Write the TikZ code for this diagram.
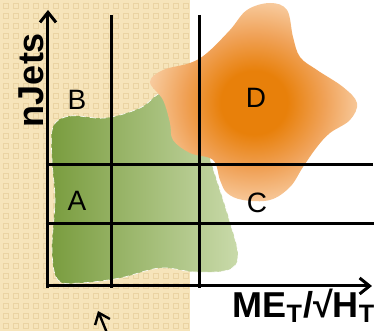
\documentclass[tikz,border=0pt]{standalone}
\usepackage{fontspec}
\setmainfont{Liberation Sans}
\usetikzlibrary{arrows.meta}
\definecolor{sandbg}{HTML}{F6E4BA}
\definecolor{sanddot}{HTML}{EAD3A2}
\definecolor{leafdark}{HTML}{799C3E}
\definecolor{leafmid}{HTML}{82A349}
\definecolor{leaflight}{HTML}{C9DAAA}
\definecolor{orangecore}{HTML}{E8800A}
\definecolor{orangemid}{HTML}{F0A258}
\definecolor{orangerim}{HTML}{F8CDA2}
\pgfdeclareradialshading{orangeglow}{\pgfpoint{0bp}{0bp}}{color(0bp)=(orangecore); color(8bp)=(orangecore); color(17bp)=(orangemid); color(26bp)=(orangerim); color(50bp)=(orangerim)}

\begin{document}
\begin{tikzpicture}[x=0.5pt,y=-0.5pt,>={Straight Barb[length=5pt,width=8pt]}]
    \tikzset{axis/.style={line width=1.5pt,->},
             cut/.style={line width=1.5pt},
             region/.style={font=\fontsize{14}{16}\selectfont},
             axislabel/.style={font=\fontsize{18}{20}\selectfont\bfseries}}
    \useasboundingbox (0,0) rectangle (377,331);
    % sideband strip
    \fill[sandbg] (0,0) rectangle (190,331);
    \foreach \i in {0,...,18}
        \foreach \j in {0,...,32}
            \draw[sanddot, line width=0.4pt] (\i*10+3,\j*10+3) rectangle +(5,5);
    % blobs
    \shade[left color=leafdark, middle color=leafmid, right color=leaflight, draw=white, densely dashed, line width=0.3pt]
        plot[smooth cycle, tension=0.6] coordinates {(53,127) (70,116) (105,118) (140,108) (165,92) (195,110) (212,165) (230,222) (238,256) (228,270) (195,272) (160,268) (120,278) (80,283) (58,280) (52,250) (55,200) (52,160)};
    \shade[shading=orangeglow]
        plot[smooth cycle, tension=0.6] coordinates {(150,82) (163,70) (190,63) (207,53) (230,30) (247,10) (270,3) (287,10) (293,37) (300,57) (317,70) (343,87) (357,103) (350,120) (330,133) (317,147) (303,167) (290,187) (270,200) (243,200) (227,193) (220,180) (213,160) (190,153) (173,140) (170,123) (163,100)};
    % axes and cuts
    \coordinate (origin) at (48,286);
    \coordinate (ytip) at (48,10);
    \coordinate (xtip) at (372,286);
    \draw[axis] (48,288) -- (ytip);
    \draw[axis] (origin) -- (xtip);
    \draw[cut] (112,15) -- (112,288);
    \draw[cut] (200,15) -- (200,288);
    \draw[cut] (48,165) -- (373,165);
    \draw[cut] (48,224) -- (374,224);
    % labels
    \node[region] (B) at (77,100) {B};
    \node[region] (A) at (77,201) {A};
    \node[region] (D) at (256,98) {D};
    \node[region] (C) at (257,203) {C};
    \node[axislabel, rotate=90] (ylab) at (31,80) {nJets};
    \node[axislabel] (xlab) at (304,306) {ME\textsubscript{T}/√H\textsubscript{T}};
    \coordinate (cursortail) at (107,333);
    \coordinate (cursortip) at (98,311);
    \draw[line width=1.2pt,->] (cursortail) -- (cursortip);
\end{tikzpicture}
\end{document}
